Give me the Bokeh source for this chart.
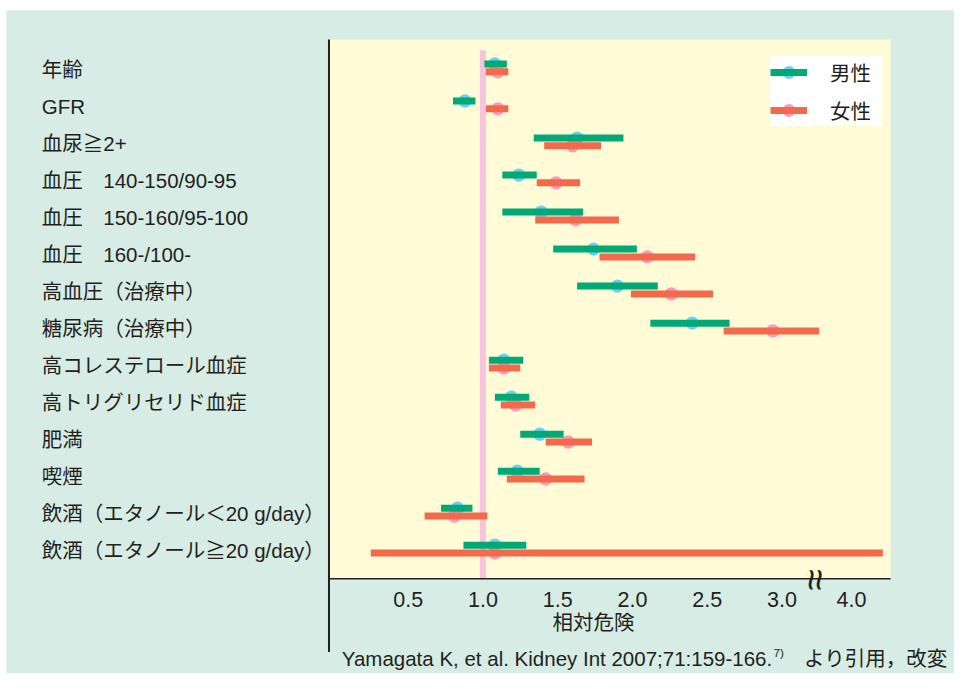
import math
from bokeh.plotting import figure
from bokeh.models import Range1d, Legend, LegendItem, BoxAnnotation
from bokeh.embed import file_html
from bokeh.resources import INLINE
from bokeh.core.properties import value

# ---------------- data ----------------
categories = [
    "年齢", "GFR", "血尿≧2+",
    "血圧　140-150/90-95", "血圧　150-160/95-100", "血圧　160-/100-",
    "高血圧（治療中）", "糖尿病（治療中）",
    "高コレステロール血症", "高トリグリセリド血症", "肥満", "喫煙",
    "飲酒（エタノール＜20 g/day）", "飲酒（エタノール≧20 g/day）",
]
male_rr = [1.08, 0.88, 1.63, 1.24, 1.39, 1.74, 1.90, 2.40, 1.14, 1.19, 1.38, 1.23, 0.83, 1.08]
male_lo = [1.01, 0.80, 1.34, 1.13, 1.13, 1.47, 1.63, 2.12, 1.04, 1.08, 1.25, 1.10, 0.72, 0.87]
male_hi = [1.16, 0.95, 1.94, 1.36, 1.67, 2.03, 2.17, 2.65, 1.27, 1.31, 1.54, 1.38, 0.93, 1.29]
female_rr = [1.10, 1.10, 1.60, 1.49, 1.62, 2.10, 2.26, 2.94, 1.14, 1.22, 1.57, 1.42, 0.81, 1.08]
female_lo = [1.02, 1.02, 1.41, 1.36, 1.35, 1.78, 1.99, 2.61, 1.04, 1.12, 1.42, 1.16, 0.61, 0.25]
female_hi = [1.17, 1.17, 1.79, 1.65, 1.91, 2.42, 2.54, 3.25, 1.25, 1.35, 1.73, 1.68, 1.03, 4.21]
reference_value = [1.0]
tick_values = [0.5, 1.0, 1.5, 2.0, 2.5, 3.0, 4.0]
tick_labels = ["0.5", "1.0", "1.5", "2.0", "2.5", "3.0", "4.0"]
legend_labels = ["男性", "女性"]
x_title = "相対危険"
caption_main = "Yamagata K, et al. Kidney Int 2007;71:159-166."
caption_sup = "7)"
caption_tail = "より引用，改変"

# ---------------- axis break (3.0 ... 4.0) ----------------
BREAK_AT = 3.5      # values above this are drawn past the break
BREAK_SHIFT = 0.535
BREAK_MARK = 3.22


def disp(v):
    return v if v < BREAK_AT else round(v - BREAK_SHIFT, 4)


# ---------------- styles ----------------
MINT = "#d7ece4"
CREAM = "#fffbd6"
DARK = "#231f20"
GREEN = "#00a976"
RED = "#f26a4b"
BLUE = "#6dcff6"
PINK = "#f59bbf"
PINK_LINE = "#f8c3dc"
FONT = "Liberation Sans, Noto Sans CJK JP"

# layout grid (reference picture is 970 x 689; canvas is 954 x 673)
REF_W, REF_H = 970, 689
W, H = 954, 673
SX, SY = W / REF_W, H / REF_H
PX_X = 152.0   # ref px per unit x
PX_Y = 37.9    # ref px per row
X0 = 338.5     # ref px of x=0
Y0 = 69.0      # ref px of row 0


def dx(px):
    return (px - X0) / PX_X


def dy(px):
    return (px - Y0) / PX_Y


def fs(px):
    return "%.1fpx" % (px * SY)


XL, XR = dx(333), dx(905)
YT, YB = dy(40), dy(592)
OFF = 4.0 / PX_Y

n = len(categories)
rows = list(range(n))
male_y = [r - OFF for r in rows]
female_y = [r + OFF for r in rows]

p = figure(width=W, height=H, title=None,
           x_range=Range1d(dx(0), dx(REF_W)), y_range=Range1d(dy(REF_H), dy(0)),
           output_backend="svg", toolbar_location=None,
           x_axis_location=None, y_axis_location=None,
           min_border=0, min_border_left=0, min_border_right=0,
           min_border_top=0, min_border_bottom=0,
           background_fill_color="white", border_fill_color="white",
           outline_line_color=None)
p.grid.visible = False

# mint page panel and cream plotting panel
p.add_layout(BoxAnnotation(left=dx(6), right=dx(REF_W + 5), top=dy(10), bottom=dy(REF_H + 5),
                           fill_color=MINT, fill_alpha=1.0, line_color=None, level="underlay"))
p.add_layout(BoxAnnotation(left=XL, right=XR, top=YT, bottom=YB, fill_color=CREAM,
                           fill_alpha=1.0, line_color=None, level="underlay"))

# reference line at RR = 1.0
p.segment(x0=reference_value, y0=[dy(51)], x1=reference_value, y1=[YB],
          line_width=6, line_color=PINK_LINE)

m_circ = p.scatter(x=[disp(v) for v in male_rr], y=male_y, size=13.3,
                   fill_color=BLUE, line_color=None)
f_circ = p.scatter(x=[disp(v) for v in female_rr], y=female_y, size=13.3,
                   fill_color=PINK, line_color=None)
m_bar = p.segment(x0=[disp(v) for v in male_lo], y0=male_y,
                  x1=[disp(v) for v in male_hi], y1=male_y,
                  line_width=7, line_color=GREEN)
f_bar = p.segment(x0=[disp(v) for v in female_lo], y0=female_y,
                  x1=[disp(v) for v in female_hi], y1=female_y,
                  line_width=7, line_color=RED)

# axes lines
p.segment(x0=[XL], y0=[YB], x1=[XR], y1=[YB], line_width=1.6, line_color=DARK)
p.segment(x0=[dx(334)], y0=[YT], x1=[dx(334)], y1=[dy(667)], line_width=2, line_color=DARK)

# tick labels
ticks_d = [disp(t) for t in tick_values]
p.text(x=ticks_d, y=[dy(613)] * len(ticks_d), text=tick_labels,
       text_align="center", text_baseline="middle", text_font=value(FONT),
       text_font_size=fs(22), text_color=DARK)

# axis break mark
p.text(x=[BREAK_MARK], y=[dy(593)], text=["≈"], angle=math.pi / 2,
       text_align="center", text_baseline="middle", text_font=value("Liberation Sans"),
       text_font_size=fs(40), text_color=DARK)

# category labels at the left
p.text(x=[dx(42)] * n, y=[r + 0.03 for r in rows], text=categories,
       text_align="left", text_baseline="middle", text_font=value(FONT),
       text_font_size=fs(21), text_color=DARK)

# axis title
p.text(x=[dx(603)], y=[dy(637)], text=[x_title], text_align="center",
       text_baseline="middle", text_font=value(FONT), text_font_size=fs(21),
       text_color=DARK)

# source caption
p.text(x=[dx(347)], y=[dy(674)], text=[caption_main], text_align="left",
       text_baseline="middle", text_font=value(FONT), text_font_size=fs(21),
       text_color=DARK)
p.text(x=[dx(786)], y=[dy(667)], text=[caption_sup], text_align="left",
       text_baseline="middle", text_font=value(FONT), text_font_size=fs(12),
       text_color=DARK)
p.text(x=[dx(963)], y=[dy(674)], text=[caption_tail], text_align="right",
       text_baseline="middle", text_font=value(FONT), text_font_size=fs(21),
       text_color=DARK)

legend = Legend(items=[LegendItem(label=legend_labels[0], renderers=[m_circ, m_bar]),
                       LegendItem(label=legend_labels[1], renderers=[f_circ, f_bar])],
                location=(round(783 * SX), round(H - 129 * SY)), orientation="vertical",
                glyph_width=37, glyph_height=32, label_standoff=23, padding=5, spacing=6,
                label_width=52, margin=0,
                label_text_font=FONT, label_text_font_size=fs(21), label_text_color=DARK,
                background_fill_color="white", background_fill_alpha=1.0,
                border_line_color=None)
p.add_layout(legend)

open("out.html", "w").write(file_html(p, INLINE))
